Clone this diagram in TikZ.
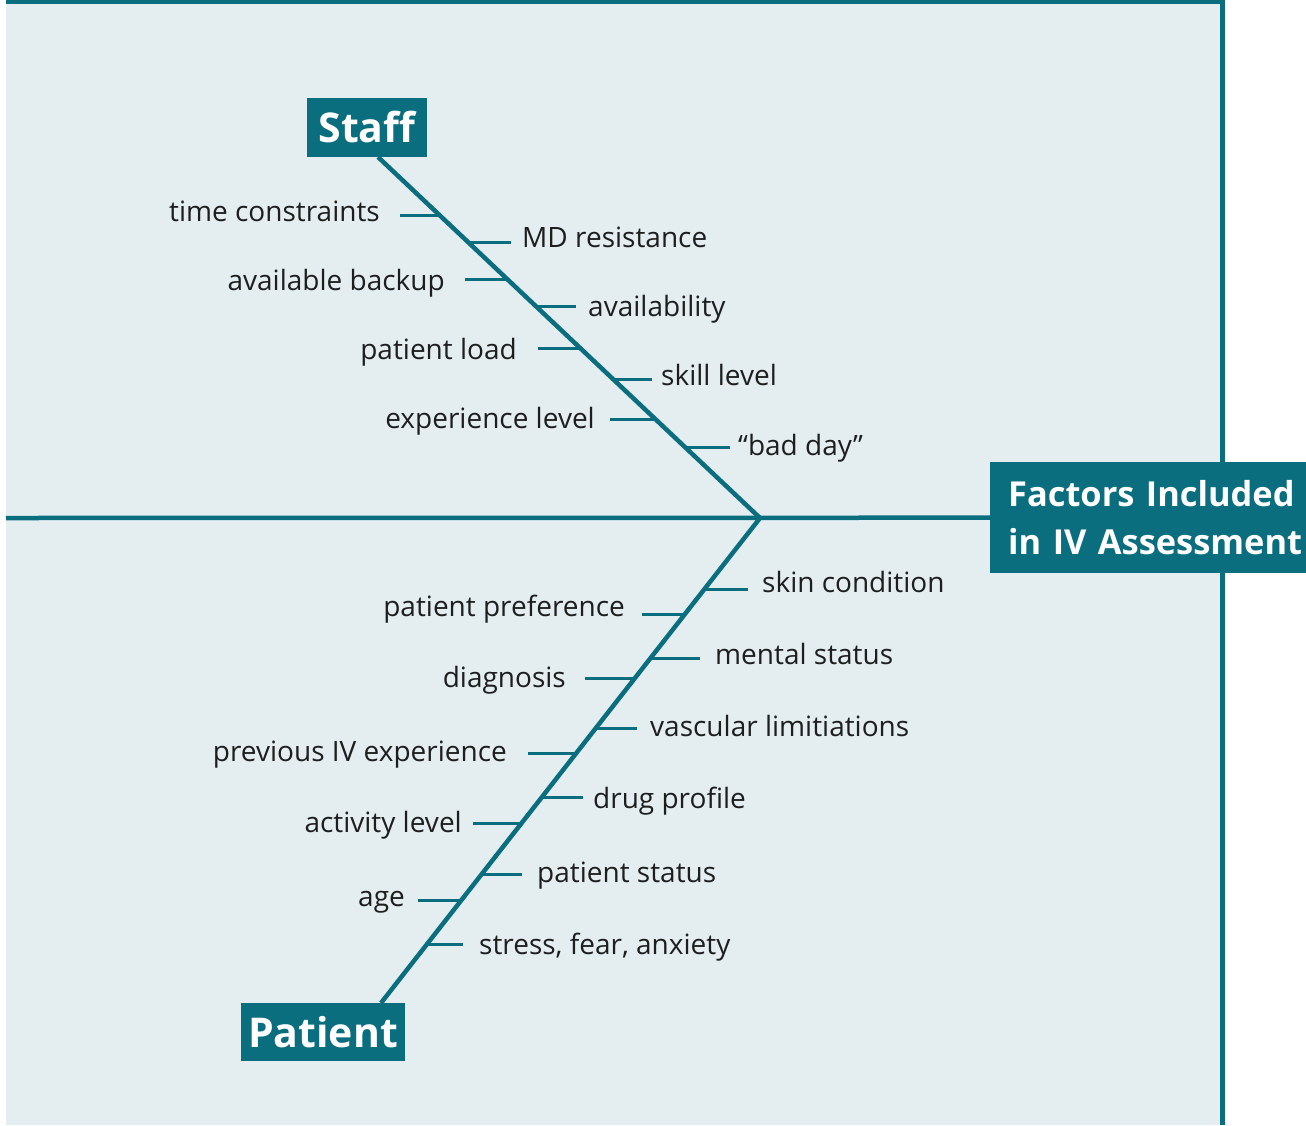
\documentclass[tikz,border=0pt]{standalone}
\usepackage{fontspec}
\setmainfont{Open Sans}
\usetikzlibrary{calc}
\definecolor{teal1}{HTML}{0B6E7E}
\definecolor{bgc}{HTML}{E4EEF1}
\definecolor{ink}{HTML}{1E1E1E}
\begin{document}
\begin{tikzpicture}[x=1pt,y=-1pt,
  bone/.style={draw=teal1,line width=4.5pt},
  rib/.style={draw=teal1,line width=3pt},
  lab/.style={font=\fontsize{28}{32}\selectfont,text=ink,inner sep=0pt,text height=24pt,text depth=5pt},
  head/.style={fill=teal1,text=white,font=\fontsize{41}{44}\selectfont\bfseries,inner sep=0pt}]
\useasboundingbox (0,0) rectangle (1306,1125);
\clip (0,0) rectangle (1306,1125);
\fill[white] (0,0) rectangle (1306,1125);
\fill[bgc] (6,0) rectangle (1222,1125);
\draw[teal1,line width=4pt] (6,2) -- (1224,2);
\draw[teal1,line width=5pt] (1222,0) -- (1222,1125);

% heads
\node[head,minimum width=120pt,minimum height=59pt] (staff) at (367,127.5) {Staff};
\node[head,minimum width=164pt,minimum height=58pt] (patient) at (323,1032) {Patient};
\node[head,font=\fontsize{34.4}{48}\selectfont\bfseries,anchor=north west,minimum height=111pt,
      inner xsep=18pt,text width=320pt,align=left] (factors) at (990,462) {Factors Included\\in IV Assessment};

% spine and bones
\coordinate (L) at (6,518);
\coordinate (J) at (760,518);
\coordinate (S0) at (378,157);
\coordinate (P0) at (381,1003);
\draw[bone] (L) -- (factors.west);
\draw[bone] (J) -- (S0);
\draw[bone] (J) -- (P0);

% staff ribs, left
\foreach \ry/\ox/\ty/\tx/\txt [count=\i] in {
  215/400/212/380/time constraints,
  279/465/281/445/available backup,
  348/538/350/517/patient load,
  419/610/419/595/experience level}{
  \pgfmathsetmacro\dx{378+(\ry-157)/361*382}
  \coordinate (sl\i) at (\dx,\ry);
  \coordinate (slo\i) at (\ox,\ry);
  \draw[rib] (slo\i) -- (sl\i);
  \node[lab,anchor=east] (slt\i) at (\tx,\ty) {\txt};
}
% staff ribs, right
\foreach \ry/\ox/\ty/\tx/\txt [count=\i] in {
  242/511/238/522/MD resistance,
  306/576/307/588/availability,
  379/652/376/661/skill level,
  447/730/446/738/“bad day”}{
  \pgfmathsetmacro\dx{378+(\ry-157)/361*382}
  \coordinate (sr\i) at (\dx,\ry);
  \coordinate (sro\i) at (\ox,\ry);
  \draw[rib] (sr\i) -- (sro\i);
  \node[lab,anchor=west] (srt\i) at (\tx,\ty) {\txt};
}
% patient ribs, left
\foreach \ry/\ox/\ty/\tx/\txt [count=\i] in {
  614/642/607/625/patient preference,
  678/585/678/566/diagnosis,
  753/528/752/507/previous IV experience,
  823/473/823/462/activity level,
  900/418/897/405/age}{
  \pgfmathsetmacro\dx{760-(\ry-518)/485*379}
  \coordinate (pl\i) at (\dx,\ry);
  \coordinate (plo\i) at (\ox,\ry);
  \draw[rib] (plo\i) -- (pl\i);
  \node[lab,anchor=east] (plt\i) at (\tx,\ty) {\txt};
}
% patient ribs, right
\foreach \ry/\ox/\ty/\tx/\txt [count=\i] in {
  589/748/583/762/skin condition,
  658/700/655/715/mental status,
  728/637/727/650/vascular limitiations,
  797/583/799/593/drug profile,
  874/522/873/537/patient status,
  944/463/945/479/{stress, fear, anxiety}}{
  \pgfmathsetmacro\dx{760-(\ry-518)/485*379}
  \coordinate (pr\i) at (\dx,\ry);
  \coordinate (pro\i) at (\ox,\ry);
  \draw[rib] (pr\i) -- (pro\i);
  \node[lab,anchor=west] (prt\i) at (\tx,\ty) {\txt};
}
\end{tikzpicture}
\end{document}
